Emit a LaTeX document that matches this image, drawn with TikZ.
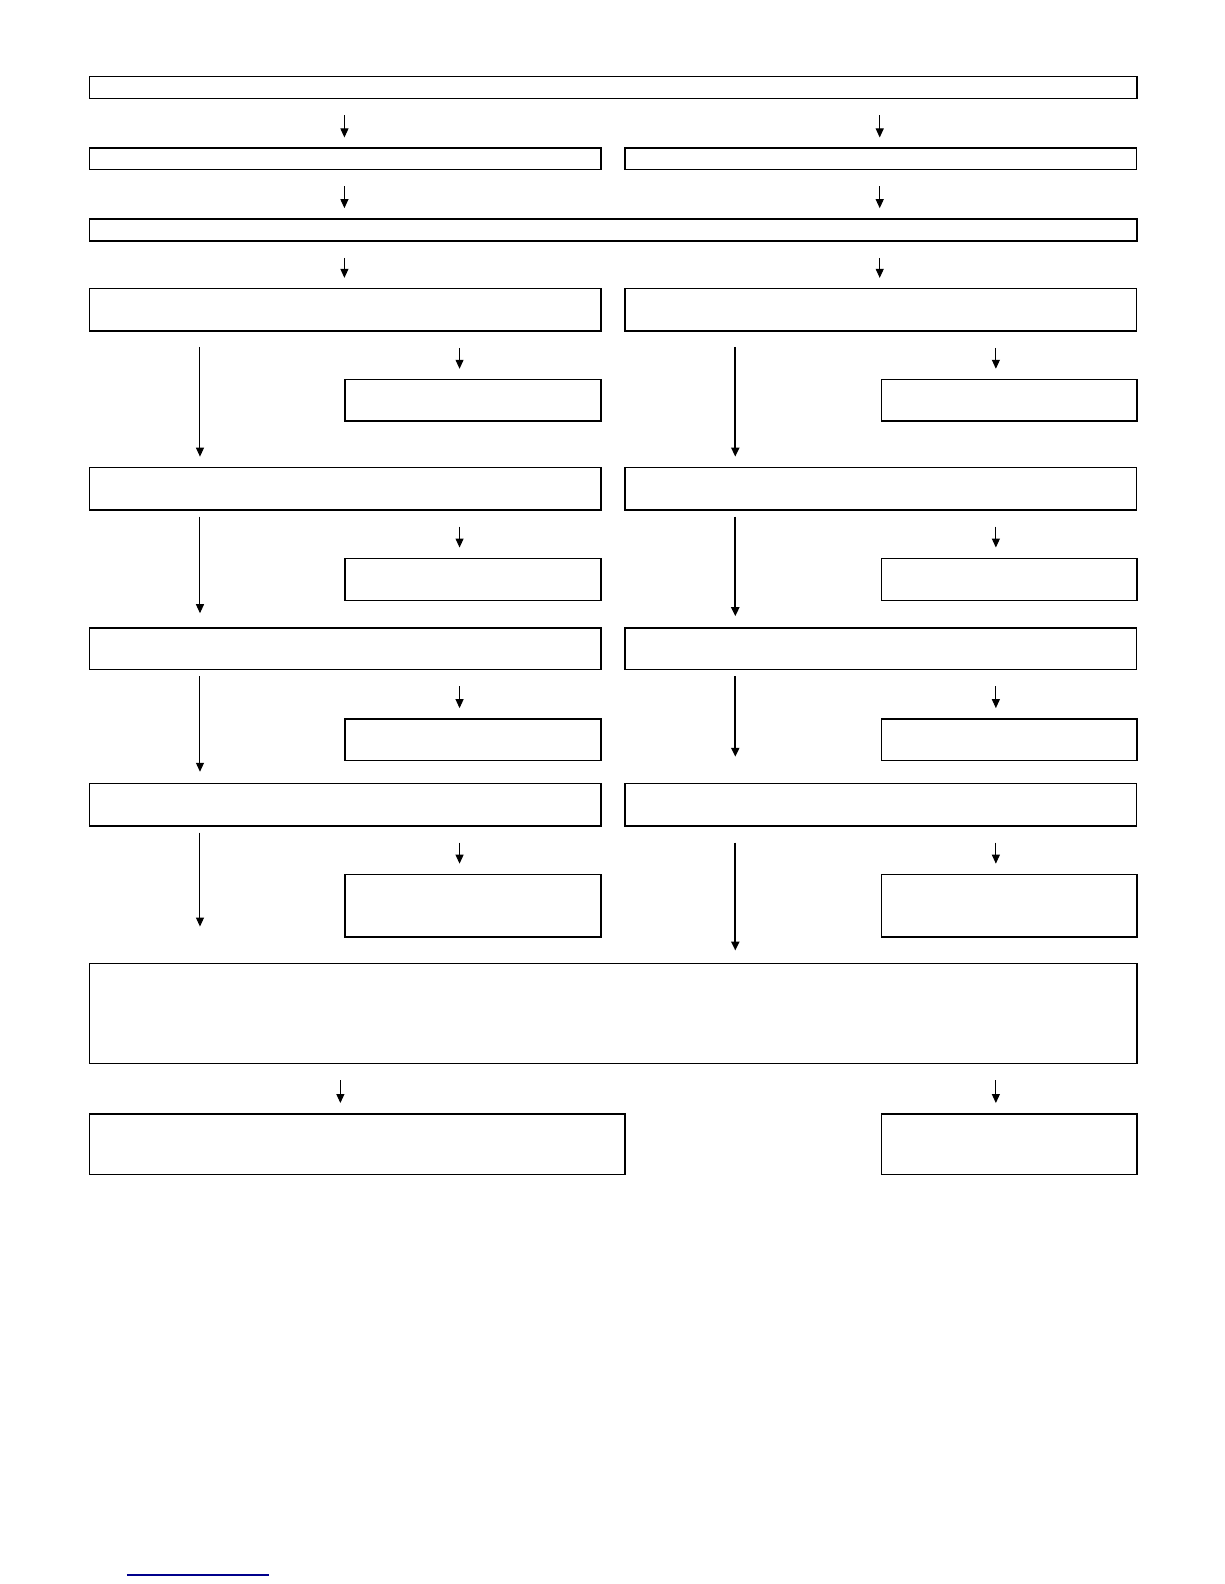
\documentclass[tikz,border=0pt]{standalone}
\usetikzlibrary{arrows.meta}

\tikzset{
  box/.style={draw, line width=0.75bp, anchor=north west, inner sep=0pt},
  wide/.style={box, minimum width=523.7bp},
  half/.style={box, minimum width=255.8bp},
  small/.style={box, minimum width=127.8bp},
  arr/.style={-{Triangle[length=4.5bp,width=4bp]}, line width=0.5bp, shorten <=8bp, shorten >=5bp},
  longl/.style={-{Triangle[length=4.5bp,width=4bp]}, line width=0.5bp},
  longr/.style={-{Triangle[length=4.5bp,width=4bp]}, line width=1bp},
}

\begin{document}
\begin{tikzpicture}[x=0.505bp, y=-0.505bp]
        \useasboundingbox (0,0) rectangle (1212,1568.3);
        % columns of the arrows
        \coordinate (cmidL) at (341,0);
        \coordinate (cmidR) at (871,0);
        \coordinate (clongL) at (198,0);
        \coordinate (clongR) at (728,0);
        \coordinate (csubL) at (455,0);
        \coordinate (csubR) at (986,0);
        \coordinate (cendL) at (337,0);

        \node[wide, minimum height=11.1bp] (top) at (88,75) {};
        \node[half, minimum height=10.6bp] (splitL) at (88,146) {};
        \node[half, minimum height=10.6bp] (splitR) at (618,146) {};
        \node[wide, minimum height=11.1bp] (join) at (88,216) {};

        \node[half, minimum height=21.2bp] (stepL1) at (88,285) {};
        \node[half, minimum height=21.2bp] (stepR1) at (618,285) {};
        \node[small, minimum height=20.7bp] (subL1) at (341,375) {};
        \node[small, minimum height=20.7bp] (subR1) at (872,375) {};

        \node[half, minimum height=21.2bp] (stepL2) at (88,462) {};
        \node[half, minimum height=21.2bp] (stepR2) at (618,462) {};
        \node[small, minimum height=21.2bp] (subL2) at (341,552) {};
        \node[small, minimum height=21.2bp] (subR2) at (872,552) {};

        \node[half, minimum height=20.7bp] (stepL3) at (88,621) {};
        \node[half, minimum height=20.7bp] (stepR3) at (618,621) {};
        \node[small, minimum height=20.7bp] (subL3) at (341,711) {};
        \node[small, minimum height=20.7bp] (subR3) at (872,711) {};

        \node[half, minimum height=21.2bp] (stepL4) at (88,775) {};
        \node[half, minimum height=21.2bp] (stepR4) at (618,775) {};
        \node[small, minimum height=31.3bp] (subL4) at (341,865) {};
        \node[small, minimum height=31.3bp] (subR4) at (872,865) {};

        \node[wide, minimum height=50bp] (merge) at (88,953) {};
        \node[box, minimum width=267.6bp, minimum height=30.3bp] (outL) at (88,1102) {};
        \node[small, minimum height=30.3bp] (outR) at (872,1102) {};

        % short arrows
        \draw[arr] (top.south -| cmidL) -- (splitL.north -| cmidL);
        \draw[arr] (top.south -| cmidR) -- (splitR.north -| cmidR);
        \draw[arr] (splitL.south -| cmidL) -- (join.north -| cmidL);
        \draw[arr] (splitR.south -| cmidR) -- (join.north -| cmidR);
        \draw[arr] (join.south -| cmidL) -- (stepL1.north -| cmidL);
        \draw[arr] (join.south -| cmidR) -- (stepR1.north -| cmidR);
        \draw[arr] (stepL1.south -| csubL) -- (subL1.north -| csubL);
        \draw[arr] (stepR1.south -| csubR) -- (subR1.north -| csubR);
        \draw[arr] (stepL2.south -| csubL) -- (subL2.north -| csubL);
        \draw[arr] (stepR2.south -| csubR) -- (subR2.north -| csubR);
        \draw[arr] (stepL3.south -| csubL) -- (subL3.north -| csubL);
        \draw[arr] (stepR3.south -| csubR) -- (subR3.north -| csubR);
        \draw[arr] (stepL4.south -| csubL) -- (subL4.north -| csubL);
        \draw[arr] (stepR4.south -| csubR) -- (subR4.north -| csubR);
        \draw[arr] (merge.south -| cendL) -- (outL.north -| cendL);
        \draw[arr] (merge.south -| csubR) -- (outR.north -| csubR);

        % long arrows
        \draw[longl, shorten <=7.5bp, shorten >=5bp] (stepL1.south -| clongL) -- (stepL2.north -| clongL);
        \draw[longl, shorten <=3bp, shorten >=7bp] (stepL2.south -| clongL) -- (stepL3.north -| clongL);
        \draw[longl, shorten <=3bp, shorten >=5.5bp] (stepL3.south -| clongL) -- (stepL4.north -| clongL);
        \draw[longl, shorten <=3bp, shorten >=18bp] (stepL4.south -| clongL) -- (merge.north -| clongL);
        \draw[longr, shorten <=7.5bp, shorten >=5bp] (stepR1.south -| clongR) -- (stepR2.north -| clongR);
        \draw[longr, shorten <=3bp, shorten >=5.5bp] (stepR2.south -| clongR) -- (stepR3.north -| clongR);
        \draw[longr, shorten <=3bp, shorten >=13bp] (stepR3.south -| clongR) -- (stepR4.north -| clongR);
        \draw[longr, shorten <=8bp, shorten >=6bp] (stepR4.south -| clongR) -- (merge.north -| clongR);

        % blue rule at the foot
        \draw[line width=1bp, blue!55!black] (125.7,1559.4) -- (266.3,1559.4);
\end{tikzpicture}
\end{document}
